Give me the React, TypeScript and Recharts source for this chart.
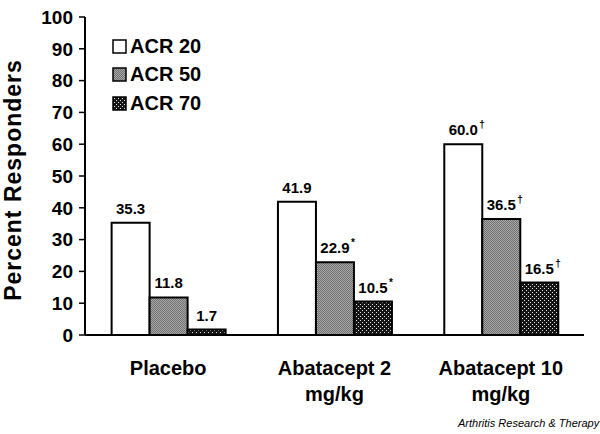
import { BarChart, Bar, XAxis, YAxis, LabelList } from "recharts";

const categories = ["Placebo", "Abatacept 2 mg/kg", "Abatacept 10 mg/kg"];
const catLines = [["Placebo"], ["Abatacept 2", "mg/kg"], ["Abatacept 10", "mg/kg"]];
const acr20 = [35.3, 41.9, 60.0];
const acr50 = [11.8, 22.9, 36.5];
const acr70 = [1.7, 10.5, 16.5];
const mark20 = ["", "", "†"];
const mark50 = ["", "*", "†"];
const mark70 = ["", "*", "†"];
const yTicks = [0, 10, 20, 30, 40, 50, 60, 70, 80, 90, 100];
const bounds = [0, 1, 2, 3];

const data = categories.map((name, i) => ({
  name,
  pos: i + 0.5,
  acr20: acr20[i],
  acr50: acr50[i],
  acr70: acr70[i],
}));

const FONT = "Arial, 'Liberation Sans', sans-serif";

const Patterns = ({ sfx }: { sfx: string }) => (
  <defs>
    <pattern id={"grey" + sfx} width="2" height="2" patternUnits="userSpaceOnUse">
      <rect width="2" height="2" fill="#a8a8a8" />
      <rect x="0" y="0" width="1" height="1" fill="#707070" />
      <rect x="1" y="1" width="1" height="1" fill="#707070" />
    </pattern>
    <pattern id={"dots" + sfx} width="4" height="4" patternUnits="userSpaceOnUse">
      <rect width="4" height="4" fill="#151515" />
      <rect x="0" y="0" width="1" height="1" fill="#e0e0e0" />
      <rect x="2" y="2" width="1" height="1" fill="#e0e0e0" />
    </pattern>
  </defs>
);

const legendItems = [
  { label: "ACR 20", fill: "#ffffff" },
  { label: "ACR 50", fill: "url(#greyL)" },
  { label: "ACR 70", fill: "url(#dotsL)" },
];

const LegendBox = () => (
  <div style={{ position: "absolute", left: 112, top: 32, fontFamily: FONT, fontWeight: "bold", fontSize: 20 }}>
    <svg width="0" height="0" style={{ position: "absolute" }}>
      <Patterns sfx="L" />
    </svg>
    {legendItems.map((it) => (
      <div key={it.label} style={{ display: "flex", alignItems: "center", height: 28.5 }}>
        <svg width="15" height="15" style={{ marginRight: 3 }}>
          <rect x="1" y="1" width="13" height="13" fill={it.fill} stroke="#000" strokeWidth="1.5" />
        </svg>
        <span>{it.label}</span>
      </div>
    ))}
  </div>
);

const makeLabel = (marks: string[]) => (props: any) => {
  const { x, y, width, value, index } = props;
  const cx = x + width / 2;
  const m = marks[index];
  return (
    <g>
      <text x={cx} y={y - 9} textAnchor="middle" fontFamily={FONT} fontWeight="bold" fontSize={15} fill="#000">
        {Number(value).toFixed(1)}
      </text>
      {m && (
        <text x={cx + 16} y={y - 16} fontFamily={FONT} fontWeight="bold" fontSize={10} fill="#000">
          {m}
        </text>
      )}
    </g>
  );
};

const CatTick = (props: any) => {
  const { x, y, index } = props;
  const lines = catLines[index] || [];
  return (
    <text x={x} y={y} textAnchor="middle" fontFamily={FONT} fontWeight="bold" fontSize={20} fill="#000">
      {lines.map((l, i) => (
        <tspan key={i} x={x} dy={i === 0 ? 22 : 26}>
          {l}
        </tspan>
      ))}
    </text>
  );
};

const YLabel = (props: any) => {
  const vb = props.viewBox;
  const cx = 13;
  const cy = vb.y + vb.height / 2 + 4;
  return (
    <text x={cx} y={cy} transform={`rotate(-90 ${cx} ${cy})`} textAnchor="middle" dominantBaseline="central"
      fontFamily={FONT} fontWeight="bold" fontSize={23} letterSpacing={1} fill="#000">
      Percent Responders
    </text>
  );
};

export default function App() {
  return (
    <div style={{ position: "absolute", left: 0, top: 0, width: 600, height: 434, background: "#fff" }}>
      <BarChart
        width={600}
        height={434}
        data={data}
        margin={{ top: 17, right: 16, left: 0, bottom: 9 }}
        barCategoryGap="16%"
        barGap={0}
      >
        <Patterns sfx="" />
        <XAxis
          xAxisId="b"
          type="number"
          dataKey="pos"
          domain={[0, 3]}
          ticks={bounds}
          tick={false}
          tickSize={8}
          height={10}
          stroke="#000"
          strokeWidth={2}
          axisLine={{ stroke: "#000", strokeWidth: 2 }}
        />
        <XAxis
          xAxisId="cat"
          dataKey="name"
          axisLine={false}
          tickLine={false}
          height={80}
          interval={0}
          tick={<CatTick />}
        />
        <YAxis
          domain={[0, 100]}
          ticks={yTicks}
          width={85}
          tickSize={6}
          tickMargin={6}
          interval={0}
          stroke="#000"
          axisLine={{ stroke: "#000", strokeWidth: 2 }}
          tickLine={{ stroke: "#000", strokeWidth: 1.5 }}
          tick={{ fontFamily: FONT, fontWeight: "bold", fontSize: 19, fill: "#000" }}
          label={<YLabel />}
        />
        <Bar xAxisId="cat" dataKey="acr20" name="ACR 20" fill="#ffffff" stroke="#000" strokeWidth={2} isAnimationActive={false}>
          <LabelList dataKey="acr20" content={makeLabel(mark20)} />
        </Bar>
        <Bar xAxisId="cat" dataKey="acr50" name="ACR 50" fill="url(#grey)" stroke="#000" strokeWidth={2} isAnimationActive={false}>
          <LabelList dataKey="acr50" content={makeLabel(mark50)} />
        </Bar>
        <Bar xAxisId="cat" dataKey="acr70" name="ACR 70" fill="url(#dots)" stroke="#000" strokeWidth={2} isAnimationActive={false}>
          <LabelList dataKey="acr70" content={makeLabel(mark70)} />
        </Bar>
      </BarChart>
      <LegendBox />
      <div style={{ position: "absolute", left: 458, top: 417, fontFamily: FONT, fontStyle: "italic", fontSize: 11, color: "#000" }}>
        Arthritis Research &amp; Therapy
      </div>
    </div>
  );
}
